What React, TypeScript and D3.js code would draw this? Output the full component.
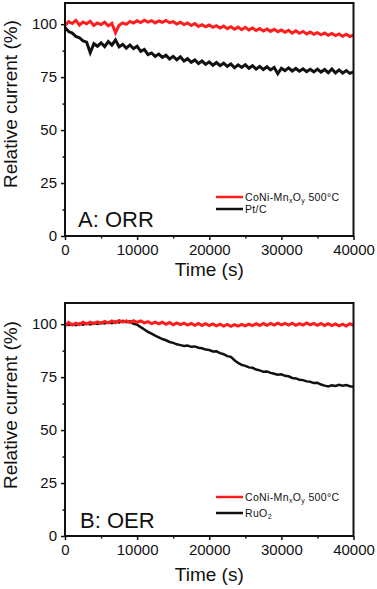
import React, { useEffect, useRef } from "react";
import * as d3 from "d3";

const WIDTH = 377;
const HEIGHT = 589;
const RED = "#ff1e1e";
const BLACK = "#111";
const FONT = "'Liberation Sans', Arial, Helvetica, sans-serif";

const TIME_TICKS = [0, 10000, 20000, 30000, 40000];
const TIME_MINOR = [5000, 15000, 25000, 35000];
const CURRENT_TICKS = [0, 25, 50, 75, 100];
const CURRENT_MINOR = [12.5, 37.5, 62.5, 87.5];
const TIME_STEP = 500; // one reading every 500 s

// A: ORR
const orrCoNiMnO = [
  99.5, 101.2, 100.3, 101.8, 99.6, 101.0, 100.2, 101.4, 99.4, 100.6, 99.8, 100.9, 99.2, 100.4, 96.0, 99.5,
  100.6, 99.9, 101.3, 100.5, 101.6, 100.8, 101.9, 101.0, 101.7, 100.6, 101.5, 100.9, 101.8, 100.7, 101.2,
  100.1, 100.9, 99.8, 100.6, 99.4, 100.3, 98.9, 99.8, 98.8, 99.6, 98.5, 99.3, 98.2, 99.1, 97.9, 98.8, 97.6,
  98.6, 97.4, 98.5, 97.3, 98.2, 97.0, 98.0, 96.8, 97.7, 96.6, 97.6, 96.4, 97.3, 96.2, 97.1, 95.8, 96.9, 95.7,
  96.6, 95.4, 96.3, 95.2, 96.0, 95.0, 95.9, 94.8, 95.6, 94.6, 95.4, 94.3, 95.3, 94.2, 94.8,
];
const orrPtC = [
  98.5, 96.5, 95.8, 94.2, 93.6, 92.1, 91.5, 86.5, 90.8, 89.6, 91.2, 89.4, 91.8, 90.1, 92.6, 89.3, 90.4, 88.7,
  90.2, 88.5, 89.6, 87.2, 88.1, 85.6, 86.4, 84.8, 85.9, 84.3, 85.4, 83.6, 84.8, 83.2, 84.6, 82.6, 83.7, 82.0,
  83.1, 81.4, 82.6, 81.0, 82.2, 80.6, 81.9, 80.4, 81.6, 80.1, 81.2, 79.4, 80.8, 79.6, 80.9, 79.2, 80.4, 78.8,
  80.1, 78.6, 79.9, 78.4, 79.6, 76.6, 79.2, 78.1, 79.4, 77.9, 79.1, 77.8, 78.9, 77.6, 78.7, 77.5, 78.8, 77.4,
  78.6, 77.1, 78.9, 77.0, 78.4, 76.9, 78.1, 76.8, 77.5,
];

// B: OER
const oerCoNiMnO = [
  99.2, 100.8, 99.6, 100.5, 99.8, 100.9, 100.1, 101.0, 100.3, 101.1, 100.4, 101.3, 100.6, 101.5, 100.7, 101.8,
  101.0, 101.6, 100.8, 101.7, 100.9, 101.5, 100.6, 101.2, 100.3, 101.0, 100.2, 100.9, 99.9, 100.8, 99.7, 100.6,
  99.8, 100.5, 99.6, 100.4, 99.5, 100.3, 99.4, 100.2, 99.3, 100.1, 99.2, 100.0, 99.1, 99.9, 99.0, 99.8, 99.1,
  99.9, 99.2, 100.0, 99.3, 100.2, 99.4, 100.3, 99.5, 100.4, 99.6, 100.5, 99.7, 100.4, 99.6, 100.5, 99.5, 100.3,
  99.6, 100.6, 99.7, 100.4, 99.5, 100.3, 99.4, 100.2, 99.3, 100.1, 99.2, 100.0, 99.1, 100.2, 99.4,
];
const oerRuO2 = [
  100.2, 99.6, 100.1, 99.5, 100.3, 99.8, 100.4, 99.9, 100.6, 100.1, 100.8, 100.3, 101.0, 100.5, 101.2, 100.8,
  101.6, 100.9, 101.3, 100.2, 99.8, 98.6, 97.5, 96.4, 95.5, 94.6, 93.8, 93.0, 92.4, 91.6, 91.2, 90.5, 90.1,
  89.7, 89.9, 89.3, 89.5, 88.9, 88.6, 88.0, 87.8, 87.1, 87.2, 86.3, 85.8, 84.9, 84.6, 83.0, 81.7, 80.8, 80.3,
  79.6, 79.4, 78.6, 78.2, 77.5, 77.7, 77.0, 76.6, 76.1, 76.3, 75.6, 75.4, 74.6, 74.4, 73.8, 73.6, 73.0, 72.8,
  72.2, 72.3, 71.5, 71.0, 70.6, 71.1, 70.8, 71.4, 70.9, 71.3, 70.7, 70.5,
];

// legend names, split into [text, isSubscript]
const CONI_NAME: [string, boolean][] = [["CoNi-Mn", false], ["x", true], ["O", false], ["y", true], [" 500°C", false]];
const PTC_NAME: [string, boolean][] = [["Pt/C", false]];
const RUO2_NAME: [string, boolean][] = [["RuO", false], ["2", true]];

const panels = [
  {
    label: "A: ORR",
    top: 3,
    bottom: 236,
    labelPos: [78, 227],
    yTitleY: 104,
    xTitleY: 276,
    legendY: [197, 209],
    series: [
      { name: PTC_NAME, values: orrPtC, color: BLACK, width: 3 },
      { name: CONI_NAME, values: orrCoNiMnO, color: RED, width: 3 },
    ],
    legend: [
      { name: CONI_NAME, color: RED },
      { name: PTC_NAME, color: BLACK },
    ],
  },
  {
    label: "B: OER",
    top: 303,
    bottom: 536,
    labelPos: [80, 528],
    yTitleY: 405,
    xTitleY: 581,
    legendY: [497, 513],
    series: [
      { name: RUO2_NAME, values: oerRuO2, color: BLACK, width: 2.5 },
      { name: CONI_NAME, values: oerCoNiMnO, color: RED, width: 3 },
    ],
    legend: [
      { name: CONI_NAME, color: RED },
      { name: RUO2_NAME, color: BLACK },
    ],
  },
];

const LEFT = 65;
const RIGHT = 353.5;

function App() {
  const ref = useRef<SVGSVGElement>(null);

  useEffect(() => {
    if (!ref.current) return;
    const svg = d3.select(ref.current);
    svg.selectAll("*").remove();

    const x = d3.scaleLinear().domain([0, 40000]).range([LEFT, RIGHT]);

    panels.forEach((panel) => {
      const y = d3.scaleLinear().domain([0, 110]).range([panel.bottom, panel.top]);
      const g = svg.append("g").attr("font-family", FONT);

      const line = d3
        .line<number>()
        .x((_, i) => x(i * TIME_STEP))
        .y((d) => y(d));

      panel.series.forEach((s) => {
        g.append("path")
          .attr("d", line(s.values))
          .attr("fill", "none")
          .attr("stroke", s.color)
          .attr("stroke-width", s.width)
          .attr("stroke-linejoin", "miter");
      });

      // x axis
      const xAxis = g.append("g").attr("transform", `translate(0,${panel.bottom})`);
      xAxis.call(
        d3.axisBottom(x).tickValues(TIME_TICKS).tickSize(4).tickPadding(4.5).tickFormat(d3.format("d"))
      );
      xAxis.append("g").call(d3.axisBottom(x).tickValues(TIME_MINOR).tickSize(2.5).tickFormat(() => ""));

      // y axis
      const yAxis = g.append("g").attr("transform", `translate(${LEFT},0)`);
      yAxis.call(d3.axisLeft(y).tickValues(CURRENT_TICKS).tickSize(4).tickPadding(4));
      yAxis.append("g").call(d3.axisLeft(y).tickValues(CURRENT_MINOR).tickSize(2.5).tickFormat(() => ""));

      g.selectAll(".domain").remove();
      g.selectAll(".tick line").attr("stroke", BLACK).attr("stroke-width", 1.5);
      g.selectAll(".tick text").attr("font-size", 15).attr("fill", BLACK).attr("font-family", FONT);

      // frame
      g.append("rect")
        .attr("x", LEFT)
        .attr("y", panel.top)
        .attr("width", RIGHT - LEFT)
        .attr("height", panel.bottom - panel.top)
        .attr("fill", "none")
        .attr("stroke", BLACK)
        .attr("stroke-width", 2);

      // titles
      g.append("text")
        .attr("x", (LEFT + RIGHT) / 2)
        .attr("y", panel.xTitleY)
        .attr("text-anchor", "middle")
        .attr("font-size", 19)
        .attr("fill", BLACK)
        .text("Time (s)");

      g.append("text")
        .attr("transform", `translate(17,${panel.yTitleY}) rotate(-90)`)
        .attr("text-anchor", "middle")
        .attr("font-size", 19)
        .attr("fill", BLACK)
        .text("Relative current (%)");

      g.append("text")
        .attr("x", panel.labelPos[0])
        .attr("y", panel.labelPos[1])
        .attr("font-size", 22)
        .attr("fill", BLACK)
        .text(panel.label);

      // legend
      panel.legend.forEach((item, i) => {
        const ly = panel.legendY[i];
        g.append("line")
          .attr("x1", 216)
          .attr("x2", 243)
          .attr("y1", ly)
          .attr("y2", ly)
          .attr("stroke", item.color)
          .attr("stroke-width", 2.5);
        const t = g
          .append("text")
          .attr("x", 245)
          .attr("y", ly + 3.5)
          .attr("font-size", 10.5)
          .attr("letter-spacing", 0.35)
          .attr("fill", BLACK);
        let shifted = false;
        item.name.forEach(([part, sub]) => {
          const dy = sub && !shifted ? 2.5 : !sub && shifted ? -2.5 : 0;
          shifted = sub;
          t.append("tspan")
            .attr("dy", dy)
            .attr("font-size", sub ? 7 : 10.5)
            .text(part);
        });
      });
    });
  }, []);

  return (
    <svg
      ref={ref}
      width={WIDTH}
      height={HEIGHT}
      style={{ position: "absolute", left: 0, top: 0, background: "#fff" }}
    />
  );
}

export default App;
